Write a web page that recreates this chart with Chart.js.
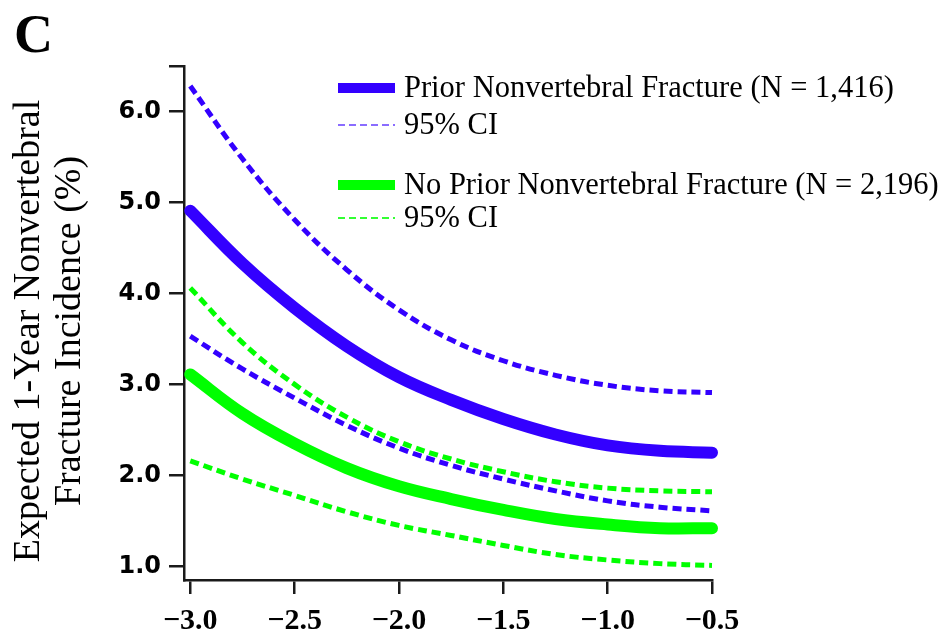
<!DOCTYPE html>
<html><head><meta charset="utf-8">
<script src="https://cdn.jsdelivr.net/npm/chart.js@4/dist/chart.umd.min.js"></script>
<style>html,body{margin:0;padding:0;background:#fff;} #wrap{width:943px;height:635px;position:relative;}</style>
</head><body><div id="wrap"><canvas id="c" width="943" height="635"></canvas></div>
<script>
// ---- data ----
const xValues      = [-3.0, -2.75, -2.5, -2.25, -2.0, -1.75, -1.5, -1.25, -1.0, -0.75, -0.5];
const priorEst     = [4.91, 4.33, 3.84, 3.42, 3.08, 2.83, 2.62, 2.45, 2.33, 2.27, 2.25];
const priorUpper   = [6.28, 5.48, 4.81, 4.26, 3.82, 3.49, 3.26, 3.10, 2.99, 2.93, 2.91];
const priorLower   = [3.53, 3.17, 2.85, 2.55, 2.30, 2.11, 1.96, 1.83, 1.72, 1.65, 1.61];
const noPriorEst   = [3.11, 2.68, 2.35, 2.08, 1.88, 1.74, 1.62, 1.52, 1.46, 1.42, 1.42];
const noPriorUpper = [4.06, 3.46, 3.00, 2.64, 2.37, 2.18, 2.04, 1.93, 1.86, 1.83, 1.82];
const noPriorLower = [2.16, 1.96, 1.78, 1.60, 1.45, 1.34, 1.23, 1.13, 1.07, 1.03, 1.01];
const yTicks = [1.0, 2.0, 3.0, 4.0, 5.0, 6.0];
const xTicks = [-3.0, -2.5, -2.0, -1.5, -1.0, -0.5];
const legendLabels = ['Prior Nonvertebral Fracture (N = 1,416)', '95% CI', 'No Prior Nonvertebral Fracture (N = 2,196)', '95% CI'];
const yTitleLines = ['Expected 1-Year Nonvertebral', 'Fracture Incidence (%)'];
const panelLabel = 'C';

const BLUE = '#3300ff', GREEN = '#00ff00', BLUE_LIGHT = '#8a6cff', GREEN_LIGHT = '#33ff33';
const pts = arr => arr.map((v, i) => ({x: xValues[i], y: v}));

function ds(label, data, color, width, dash) {
  return {label, data: pts(data), borderColor: color, backgroundColor: color, borderWidth: width,
    borderDash: dash || [], pointRadius: 0, fill: false, tension: 0.4,
    borderCapStyle: dash ? 'butt' : 'round', borderJoinStyle: 'round', clip: false};
}

const extras = {
  id: 'extras',
  afterDraw(chart) {
    const ctx = chart.ctx;
    ctx.save();
    // panel label
    ctx.fillStyle = '#000';
    ctx.font = 'bold 54px "Liberation Serif"';
    ctx.textAlign = 'left'; ctx.textBaseline = 'alphabetic';
    ctx.fillText(panelLabel, 14, 52);
    // y-axis title
    ctx.font = '38px "Liberation Serif"';
    ctx.textAlign = 'center';
    const bases = [39, 80];
    yTitleLines.forEach((t, i) => {
      ctx.save();
      ctx.translate(bases[i], 331);
      ctx.rotate(-Math.PI / 2);
      ctx.fillText(t, 0, 0);
      ctx.restore();
    });
    // legend
    const items = [
      {y: 88, color: BLUE, w: 10, dash: null},
      {y: 125, color: BLUE_LIGHT, w: 2, dash: [7, 4]},
      {y: 185, color: GREEN, w: 10, dash: null},
      {y: 218, color: GREEN_LIGHT, w: 2, dash: [7, 4]}
    ];
    ctx.font = '30.5px "Liberation Serif"';
    ctx.textAlign = 'left'; ctx.textBaseline = 'middle';
    items.forEach((it, i) => {
      ctx.beginPath();
      ctx.strokeStyle = it.color; ctx.lineWidth = it.w;
      ctx.setLineDash(it.dash || []);
      ctx.moveTo(338, it.y); ctx.lineTo(395, it.y);
      ctx.stroke();
      ctx.setLineDash([]);
      ctx.fillStyle = '#000';
      ctx.fillText(legendLabels[i], 404, it.y + 1);
    });
    ctx.restore();
  }
};

new Chart(document.getElementById('c'), {
  type: 'line',
  data: {datasets: [
    ds('Prior 95% CI upper', priorUpper, BLUE, 5, [9, 5]),
    ds('Prior 95% CI lower', priorLower, BLUE, 5, [9, 5]),
    ds('No Prior 95% CI upper', noPriorUpper, GREEN, 5, [9, 5]),
    ds('No Prior 95% CI lower', noPriorLower, GREEN, 5, [9, 5]),
    ds('Prior Nonvertebral Fracture', priorEst, BLUE, 12, null),
    ds('No Prior Nonvertebral Fracture', noPriorEst, GREEN, 12, null)
  ]},
  options: {
    responsive: false, animation: false, devicePixelRatio: 1,
    layout: {padding: {top: 66, right: 231, left: 0, bottom: 0}},
    plugins: {legend: {display: false}, tooltip: {enabled: false}, title: {display: false}},
    scales: {
      x: {
        type: 'linear', min: -3.03, max: -0.5,
        afterFit(s) { s.height = 55; },
        afterBuildTicks(s) { s.ticks = xTicks.map(v => ({value: v})); },
        border: {display: true, color: '#1a1a1a', width: 2.5},
        grid: {display: true, drawOnChartArea: false, drawTicks: true, tickLength: 14, color: '#1a1a1a', lineWidth: 2.5},
        ticks: {color: '#000', padding: 9, font: {family: '"Liberation Serif"', weight: 'bold', size: 30},
          callback: v => (v < 0 ? '\u2212' : '') + Math.abs(v).toFixed(1), maxRotation: 0}
      },
      y: {
        type: 'linear', min: 0.85, max: 6.5,
        afterFit(s) { s.width = 184; },
        afterBuildTicks(s) { s.ticks = yTicks.concat([6.5]).map(v => ({value: v})); },
        border: {display: true, color: '#1a1a1a', width: 2.5},
        grid: {display: true, drawOnChartArea: false, drawTicks: true, tickLength: 15, color: '#1a1a1a', lineWidth: 2.5},
        ticks: {color: '#000', padding: 8, font: {family: '"DejaVu Sans"', weight: 'bold', size: 24},
          callback: v => (v === 6.5 ? '' : Number(v).toFixed(1))}
      }
    }
  },
  plugins: [extras]
});
</script></body></html>
